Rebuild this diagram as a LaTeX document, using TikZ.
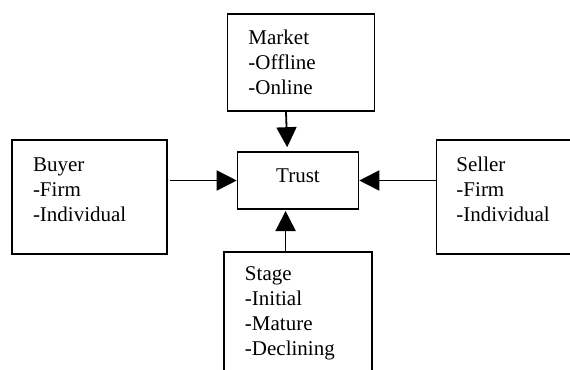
\documentclass[tikz,border=0pt]{standalone}
\usepackage{fontspec}
\setmainfont{Liberation Serif}
\usetikzlibrary{arrows.meta}

\begin{document}
\begin{tikzpicture}[x=0.5pt, y=-0.5pt, >={Triangle[length=10pt,width=10pt]},
    factor/.style = {draw, line width=0.8pt, align=left, inner xsep=10.5pt, inner ysep=0pt, font=\fontsize{10.5pt}{12.5pt}\selectfont},
    core/.style = {draw, line width=0.8pt, inner sep=0pt, minimum width=60.5pt, minimum height=28.5pt, text depth=4.5pt, font=\fontsize{10.5pt}{12.5pt}\selectfont},
    link/.style = {->, line width=0.9pt}]
    \useasboundingbox (0,0) rectangle (570,370);
    \node[core] (trust) at (298,180.5) {Trust};
    \node[factor, text width=52.5pt, minimum height=48.5pt] (market) at (301,62.5) {Market\\-Offline\\-Online};
    \node[factor, text width=56.5pt, minimum height=57pt] (buyer) at (89.5,197.2) {\begin{tabular}{@{}l@{}}
        Buyer \\
        -Firm \\
        -Individual \\[5.5pt]
        \end{tabular}};
    \node[factor, text width=57pt, inner xsep=10pt, minimum height=57pt] (seller) at (513.5,197.2) {\begin{tabular}{@{}l@{}}
        Seller \\
        -Firm \\
        -Individual \\[5.5pt]
        \end{tabular}};
    \node[factor, text width=53pt, minimum height=61.5pt] (stage) at (298,313.5) {Stage\\-Initial\\-Mature\\-Declining};
    \draw[link] ([xshift=-7.5pt]market.south) -- ([xshift=-5.4pt, yshift=2pt]trust.north);
    \draw[link] ([xshift=1.3pt]buyer.east |- trust.west) -- (trust.west);
    \draw[link] (seller.west |- trust.east) -- (trust.east);
    \draw[link] ([xshift=-6.2pt]stage.north) -- ([xshift=-6.2pt, yshift=-0.6pt]trust.south);
\end{tikzpicture}
\end{document}
